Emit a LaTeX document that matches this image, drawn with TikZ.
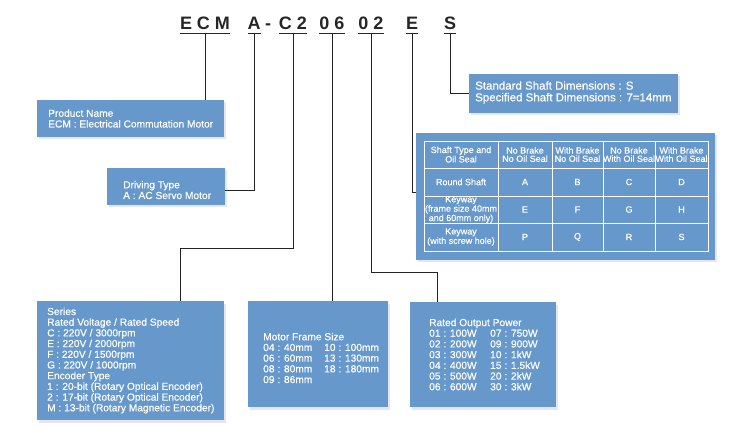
\documentclass[tikz,border=0pt]{standalone}
\usepackage{fontspec}
\setmainfont{Liberation Sans}
\newfontfamily\boxfont{Liberation Sans}[FakeBold=0.5]
\usetikzlibrary{shadows}
\definecolor{bx}{RGB}{102,152,203}
\definecolor{ln}{RGB}{35,35,35}
\newcommand{\twocol}[2]{\makebox[61pt][l]{#1}#2}

\tikzset{
  code/.style={font=\fontsize{18}{18}\selectfont\bfseries, text=black!85,
    anchor=base, inner xsep=0pt, inner ysep=3pt, outer sep=0pt},
  uline/.style={draw=black!85, line width=.9pt},
  lead/.style={draw=ln, line width=.75pt},
  infobox/.style={fill=bx, anchor=north west, inner sep=0pt, outer sep=0pt,
    drop shadow={opacity=.22, fill=black!45, shadow xshift=2pt, shadow yshift=-2.5pt}},
  boxtext/.style={text=white, anchor=west, align=left, inner sep=0pt,
    font=\boxfont\fontsize{10.2}{10.7}\selectfont},
  grid/.style={draw=white, line width=.8pt},
  cell/.style={text=white, align=center, inner sep=0pt,
    font=\boxfont\fontsize{9}{8.3}\selectfont},
}

\begin{document}
\begin{tikzpicture}[x=1pt, y=-1pt]
        \useasboundingbox (0,0) rectangle (744,430);

        % model code
        \node[code] (ecm) at (205,30) {E\kern5pt C\kern5pt M};
        \node[code] (drv) at (254,30) {A};
        \node[code] (hyph) at (268,30) {-};
        \node[code] (ser) at (293,30) {C\kern5pt 2};
        \node[code] (frm) at (332,30) {0\kern5pt 6};
        \node[code] (pwr) at (371,30) {0\kern5pt 2};
        \node[code] (brk) at (412,30) {E};
        \node[code] (sft) at (450,30) {S};

        \foreach \c in {ecm, drv, ser, frm, pwr, brk, sft}
          \draw[uline] (\c.south west) -- (\c.south east);

        % boxes
        \node[infobox, minimum width=187pt, minimum height=37pt]  (prodbox)   at (37,100)  {};
        \node[infobox, minimum width=118pt, minimum height=37pt]  (drivebox)  at (107,168) {};
        \node[infobox, minimum width=187pt, minimum height=119pt] (seriesbox) at (37,301)  {};
        \node[infobox, minimum width=140pt, minimum height=106pt] (framebox)  at (248,301) {};
        \node[infobox, minimum width=146pt, minimum height=105pt] (powerbox)  at (410,302) {};
        \node[infobox, minimum width=209pt, minimum height=39pt]  (shaftbox)  at (469,74)  {};
        \node[infobox, minimum width=299pt, minimum height=127pt] (tablebox)  at (416,133) {};

        \node[boxtext] (prodtext) at ([xshift=11pt]prodbox.west)
          {Product Name\\ECM : Electrical Commutation Motor};
        \node[boxtext] (drivetext) at ([xshift=16pt, yshift=-3.5pt]drivebox.west)
          {Driving Type\\A : AC Servo Motor};
        \node[boxtext] (seriestext) at ([xshift=10pt]seriesbox.west)
          {Series\\Rated Voltage / Rated Speed\\
            C : 220V / 3000rpm\\E : 220V / 2000rpm\\F : 220V / 1500rpm\\G : 220V / 1000rpm\\
            Encoder Type\\1 : 20-bit (Rotary Optical Encoder)\\2 : 17-bit (Rotary Optical Encoder)\\
            M : 13-bit (Rotary Magnetic Encoder)};
        \node[boxtext] (frametext) at ([xshift=15pt, yshift=-4pt]framebox.west)
          {Motor Frame Size\\
            \twocol{04 : 40mm}{10 : 100mm}\\
            \twocol{06 : 60mm}{13 : 130mm}\\
            \twocol{08 : 80mm}{18 : 180mm}\\
            09 : 86mm};
        \node[boxtext] (powertext) at ([xshift=19pt]powerbox.west)
          {Rated Output Power\\
            \twocol{01 : 100W}{07 : 750W}\\
            \twocol{02 : 200W}{09 : 900W}\\
            \twocol{03 : 300W}{10 : 1kW}\\
            \twocol{04 : 400W}{15 : 1.5kW}\\
            \twocol{05 : 500W}{20 : 2kW}\\
            \twocol{06 : 600W}{30 : 3kW}};
        \node[boxtext, font=\boxfont\fontsize{11.5}{11.7}\selectfont] (shafttext)
          at ([xshift=6pt, yshift=1pt]shaftbox.west)
          {Standard Shaft Dimensions : S\\Specified Shaft Dimensions : 7=14mm};

        % table
        \draw[grid] (424,141) rectangle (708,251);
        \foreach \x in {498, 552, 603, 655}
          \draw[grid] (\x,141) -- (\x,251);
        \foreach \y in {168, 196, 223}
          \draw[grid] (424,\y) -- (708,\y);

        \node[cell] (h1) at (461,154.5) {Shaft Type and\\Oil Seal};
        \node[cell] (h2) at (525,154.5) {No Brake\\No Oil Seal};
        \node[cell] (h3) at (577.5,154.5) {With Brake\\No Oil Seal};
        \node[cell] (h4) at (629,154.5) {No Brake\\With Oil Seal};
        \node[cell] (h5) at (681.5,154.5) {With Brake\\With Oil Seal};

        \node[cell] (r1) at (461,182) {Round Shaft};
        \node[cell] (r2) at (461,209.5) {Keyway\\(frame size 40mm\\and 60mm only)};
        \node[cell] (r3) at (461,237) {Keyway\\(with screw hole)};

        \foreach \x/\a/\b/\c [count=\i] in {525/A/E/P, 577.5/B/F/Q, 629/C/G/R, 681.5/D/H/S}{
          \node[cell] (a\i) at (\x,182) {\a};
          \node[cell] (b\i) at (\x,209.5) {\b};
          \node[cell] (c\i) at (\x,237) {\c};
        }

        % leads
        \coordinate (serbend) at (180,248);
        \coordinate (pwrbend) at (437,272);

        \draw[lead] (ecm.south) -- (ecm.south |- prodbox.north);
        \draw[lead] (drv.south) |- ([yshift=-3.5pt]drivebox.east);
        \draw[lead] (ser.south) |- (serbend) -- (serbend |- seriesbox.north);
        \draw[lead] (frm.south) -- (frm.south |- framebox.north);
        \draw[lead] (pwr.south) |- (pwrbend) -- (pwrbend |- powerbox.north);
        \draw[lead] (brk.south) |- ([yshift=4.5pt]tablebox.west);
        \draw[lead] (sft.south) |- (shaftbox.west);

      \end{tikzpicture}
\end{document}
